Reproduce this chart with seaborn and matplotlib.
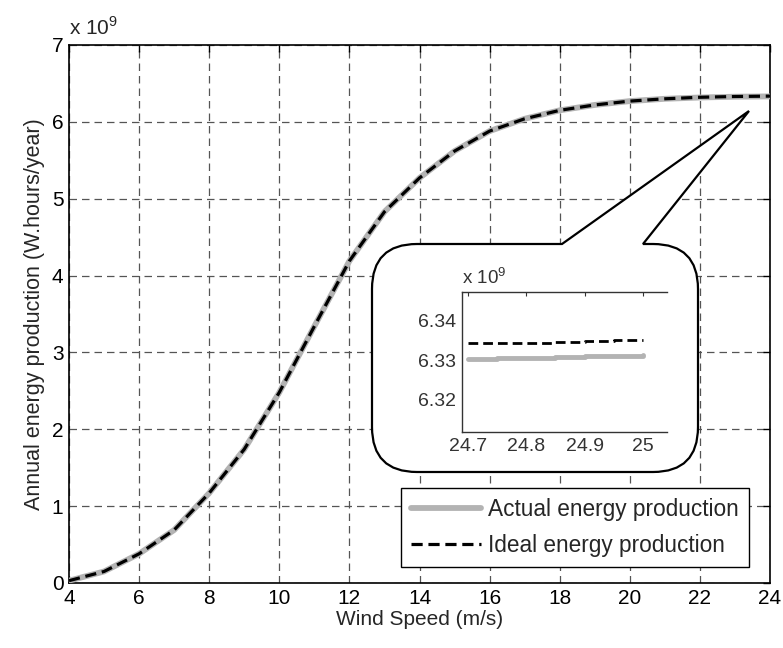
import numpy as np
import pandas as pd
import matplotlib
matplotlib.use("Agg")
import matplotlib.pyplot as plt
from matplotlib.path import Path
from matplotlib.patches import PathPatch
from matplotlib.ticker import FuncFormatter
import seaborn as sns

# ---- data (energy in W.hours/year) ----
wind_speed = [4, 5, 6, 7, 8, 9, 10, 11, 12, 13, 14, 15, 16, 17, 18, 19, 20, 21, 22, 23, 24]
ideal_e9 = [0.03, 0.15, 0.38, 0.69, 1.17, 1.74, 2.48, 3.34, 4.19, 4.83, 5.27, 5.62, 5.88,
            6.04, 6.15, 6.22, 6.27, 6.30, 6.320, 6.330, 6.335]
actual_e9 = [0.03, 0.15, 0.38, 0.69, 1.17, 1.74, 2.48, 3.34, 4.19, 4.83, 5.27, 5.62, 5.88,
             6.04, 6.15, 6.22, 6.27, 6.30, 6.317, 6.327, 6.331]
zoom_speed = [24.7, 24.75, 24.8, 24.85, 24.9, 24.95, 25.0]
zoom_ideal_e9 = [6.3344, 6.3345, 6.3345, 6.3346, 6.3350, 6.3351, 6.3352]
zoom_actual_e9 = [6.3304, 6.3305, 6.3307, 6.3308, 6.3310, 6.3312, 6.3313]
series_names = ["Actual energy production", "Ideal energy production"]

main_df = pd.DataFrame({"speed": wind_speed,
                        "actual": np.array(actual_e9) * 1e9,
                        "ideal": np.array(ideal_e9) * 1e9})
zoom_df = pd.DataFrame({"speed": zoom_speed,
                        "actual": np.array(zoom_actual_e9) * 1e9,
                        "ideal": np.array(zoom_ideal_e9) * 1e9})

sns.set_style("white")
plt.rcParams["font.family"] = ["Liberation Sans", "DejaVu Sans"]
plt.rcParams["mathtext.fontset"] = "custom"
plt.rcParams["mathtext.rm"] = "Liberation Sans"

W, H = 783, 648
fig = plt.figure(figsize=(W / 100, H / 100), dpi=100)
fig.patch.set_facecolor("white")

def fx(px):
    return px / W

def fy(py):
    return 1 - py / H

ax = fig.add_axes([fx(69), fy(583), fx(770) - fx(69), fy(45) - fy(583)])

GRAY = "#b3b3b3"
sns.lineplot(data=main_df, x="speed", y="actual", ax=ax, color=GRAY, lw=4.2,
             label=series_names[0], zorder=3)
sns.lineplot(data=main_df, x="speed", y="ideal", ax=ax, color="black", lw=2.3,
             label=series_names[1], zorder=4)
ax.lines[1].set_dashes((3.5, 1.8))

ax.set_xlim(4, 24)
ax.set_ylim(0, 7e9)
ax.set_xticks(range(4, 25, 2))
ax.set_yticks([i * 1e9 for i in range(0, 8)])
ax.yaxis.set_major_formatter(FuncFormatter(lambda v, p: f"{v/1e9:g}"))
ax.tick_params(direction="in", top=True, right=True, length=5, width=1,
               labelsize=15, colors="black", pad=4)
ax.grid(True, color="#555555", lw=0.9, linestyle=(0, (6, 4)))
for s in ax.spines.values():
    s.set_color("black")
    s.set_linewidth(1.2)
ax.set_xlabel("Wind Speed (m/s)", fontsize=15, labelpad=2)
ax.set_ylabel("Annual energy production (W.hours/year)", fontsize=15.5, labelpad=5)
ax.text(0.0, 1.012, r"x 10$^{9}$", transform=ax.transAxes, fontsize=15,
        ha="left", va="bottom")

leg = ax.legend(loc="lower right", bbox_to_anchor=(0.970, 0.030), fontsize=16.3,
                frameon=True, fancybox=False, edgecolor="black", framealpha=1,
                handlelength=3.1, borderpad=0.45, labelspacing=0.55,
                handletextpad=0.3, borderaxespad=0)
leg.get_frame().set_linewidth(1.0)
leg.set_zorder(10)

# ---- callout balloon (pixel coords, y down) ----
r = 45
L, R, T, B = 372, 698, 244, 472
t1, tip, t2 = (562, T), (749, 111), (643, T)
pts = [
    ((L + r, T), Path.MOVETO),
    (t1, Path.LINETO),
    (tip, Path.LINETO),
    (t2, Path.LINETO),
    ((R - r, T), Path.LINETO),
    ((R, T), Path.CURVE3), ((R, T + r), Path.CURVE3),
    ((R, B - r), Path.LINETO),
    ((R, B), Path.CURVE3), ((R - r, B), Path.CURVE3),
    ((L + r, B), Path.LINETO),
    ((L, B), Path.CURVE3), ((L, B - r), Path.CURVE3),
    ((L, T + r), Path.LINETO),
    ((L, T), Path.CURVE3), ((L + r, T), Path.CURVE3),
    ((L + r, T), Path.CLOSEPOLY),
]
verts = [(fx(p[0]), fy(p[1])) for p, _ in pts]
codes = [c for _, c in pts]
balloon = PathPatch(Path(verts, codes), transform=fig.transFigure,
                    facecolor="white", edgecolor="black", lw=1.6, zorder=20)
fig.patches.append(balloon)

# ---- inset axes ----
ins = fig.add_axes([fx(462), fy(432), fx(667) - fx(462), fy(292) - fy(432)])
ins.set_zorder(30)
ins.patch.set_alpha(0)
sns.lineplot(data=zoom_df, x="speed", y="actual", ax=ins, color=GRAY, lw=3.5,
             drawstyle="steps-post")
sns.lineplot(data=zoom_df, x="speed", y="ideal", ax=ins, color="black", lw=2.0,
             drawstyle="steps-post")
ins.lines[1].set_dashes((3.5, 1.8))
ins.set_xlim(24.69, 25.041)
ins.set_ylim(6.3119e9, 6.3473e9)
ins.set_xticks([24.7, 24.8, 24.9, 25.0])
ins.set_yticks([6.32e9, 6.33e9, 6.34e9])
ins.xaxis.set_major_formatter(FuncFormatter(lambda v, p: f"{v:g}"))
ins.yaxis.set_major_formatter(FuncFormatter(lambda v, p: f"{v/1e9:.2f}"))
ins.tick_params(direction="in", top=True, right=False, length=3, width=0.8,
                labelsize=14, colors="#333333", pad=4)
ins.set_xlabel("")
ins.set_ylabel("")
ins.grid(False)
for name, s in ins.spines.items():
    s.set_color("#333333")
    s.set_linewidth(1.0)
ins.spines["right"].set_visible(False)
if ins.get_legend():
    ins.get_legend().remove()
ins.text(0.0, 1.03, r"x 10$^{9}$", transform=ins.transAxes, fontsize=13.5,
         color="#333333", ha="left", va="bottom")

fig.savefig("out.png", dpi=100, facecolor="white")
